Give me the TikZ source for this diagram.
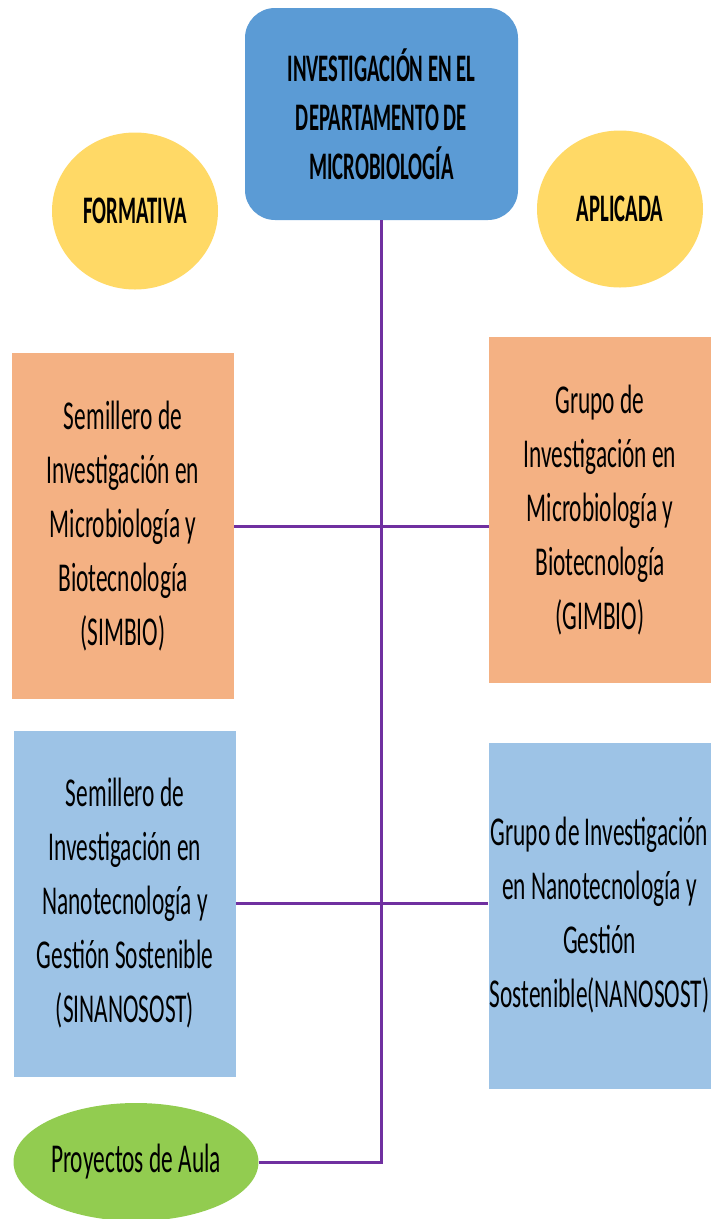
\documentclass[tikz,border=0pt]{standalone}
\usepackage{fontspec}
\setmainfont[FakeStretch=0.57]{Carlito}
\newfontfamily\headfont[FakeStretch=0.53]{Carlito}
\usetikzlibrary{shapes.geometric}
\definecolor{titleblue}{RGB}{91,155,213}
\definecolor{boxorange}{RGB}{244,177,131}
\definecolor{boxblue}{RGB}{157,195,230}
\definecolor{circyellow}{RGB}{255,217,102}
\definecolor{ovalgreen}{RGB}{146,204,80}
\definecolor{linepurple}{RGB}{112,48,160}
\begin{document}
\begin{tikzpicture}[
            x=1pt, y=-1pt,
            every node/.style = {align=center, inner sep=0pt, text=black, font=\fontsize{41}{54}\selectfont},
            titlebox/.style = {rectangle, rounded corners=30pt, fill=titleblue, minimum width=273pt, minimum height=212pt, font=\headfont\bfseries\fontsize{39}{49}\selectfont},
            kind/.style = {ellipse, fill=circyellow, minimum width=166pt, minimum height=157pt, font=\headfont\bfseries\fontsize{39}{49}\selectfont},
            orangebox/.style = {rectangle, fill=boxorange, minimum width=222pt, minimum height=346pt},
            bluebox/.style = {rectangle, fill=boxblue, minimum width=222pt, minimum height=346pt},
            link/.style = {draw=linepurple, line width=3pt}
          ]
          \useasboundingbox (0,0) rectangle (724,1219);
          \node[titlebox] (title) at (381.5,114) {INVESTIGACIÓN EN EL\\DEPARTAMENTO DE\\MICROBIOLOGÍA};
          \node[kind] (formativa) at (135,211) {FORMATIVA};
          \node[kind] (aplicada) at (620,209) {APLICADA};
          \node[orangebox] (simbio) at (123,526) {Semillero de\\Investigación en\\Microbiología y\\Biotecnología\\(SIMBIO)};
          \node[orangebox] (gimbio) at (600,510) {Grupo de\\Investigación en\\Microbiología y\\Biotecnología\\(GIMBIO)};
          \node[bluebox] (sinanosost) at (125,903.5) {Semillero de\\Investigación en\\Nanotecnología y\\Gestión Sostenible\\(SINANOSOST)};
          \node[bluebox] (nanosost) at (599.5,915.5) {Grupo de Investigación\\en Nanotecnología y\\Gestión\\Sostenible(NANOSOST)};
          \node[ellipse, fill=ovalgreen, minimum width=245pt, minimum height=118pt] (aula) at (136,1162) {Proyectos de Aula};
          % connectors
          \draw[link] (title.south) |- (aula.east);
          \draw[link] (simbio.east) -- (simbio.east -| gimbio.west);
          \draw[link] (sinanosost.east) -- (sinanosost.east -| nanosost.west);
        \end{tikzpicture}
\end{document}
